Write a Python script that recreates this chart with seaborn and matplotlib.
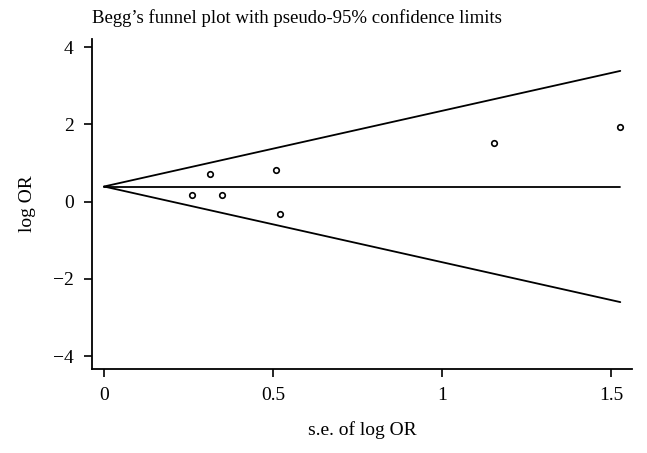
import numpy as np
import pandas as pd
import matplotlib
matplotlib.use("Agg")
import matplotlib.pyplot as plt
import seaborn as sns

# Data
se_log_or = [0.260, 0.314, 0.350, 0.509, 0.519, 1.154, 1.527]
log_or = [0.18, 0.72, 0.18, 0.83, -0.31, 1.52, 1.94]
pooled = 0.39
z = 1.96
x_ticks = [0, 0.5, 1, 1.5]
x_tick_labels = ["0", "0.5", "1", "1.5"]
y_ticks = [-4, -2, 0, 2, 4]
y_tick_labels = ["\u22124", "\u22122", "0", "2", "4"]

sns.set_theme(style="ticks")
plt.rcParams["font.family"] = ["Liberation Serif", "DejaVu Serif"]

fig = plt.figure(figsize=(6.47, 4.53), dpi=100)
ax = fig.add_axes([0.142, 0.185, 0.835, 0.729])

se_max = max(se_log_or)
lines = pd.DataFrame({
    "se": [0, se_max] * 3,
    "val": [pooled, pooled + z * se_max,
            pooled, pooled,
            pooled, pooled - z * se_max],
    "grp": ["upper", "upper", "mid", "mid", "lower", "lower"],
})
sns.lineplot(data=lines, x="se", y="val", units="grp", estimator=None,
             color="black", linewidth=1.3, ax=ax, sort=False)

pts = pd.DataFrame({"se": se_log_or, "lor": log_or})
sns.scatterplot(data=pts, x="se", y="lor", ax=ax, marker="o", s=16,
                facecolor="white", edgecolor="black", linewidth=1.2, zorder=3)

ax.set_xlim(-0.036, 1.562)
ax.set_ylim(-4.34, 4.21)
ax.set_xticks(x_ticks)
ax.set_xticklabels(x_tick_labels)
ax.set_yticks(y_ticks)
ax.set_yticklabels(y_tick_labels)
ax.tick_params(axis="both", direction="out", length=6, width=1.2,
               labelsize=14, color="black", labelcolor="black", pad=7)
for s in ["top", "right"]:
    ax.spines[s].set_visible(False)
for s in ["left", "bottom"]:
    ax.spines[s].set_color("black")
    ax.spines[s].set_linewidth(1.3)

ax.set_xlabel("s.e. of log OR", fontsize=14, color="black", labelpad=12)
ax.set_ylabel("log OR", fontsize=14, color="black", labelpad=12)
fig.text(0.142, 0.960, "Begg\u2019s funnel plot with pseudo-95% confidence limits",
         fontsize=13.5, color="black", ha="left", va="center")

fig.savefig("out.png", dpi=100)
